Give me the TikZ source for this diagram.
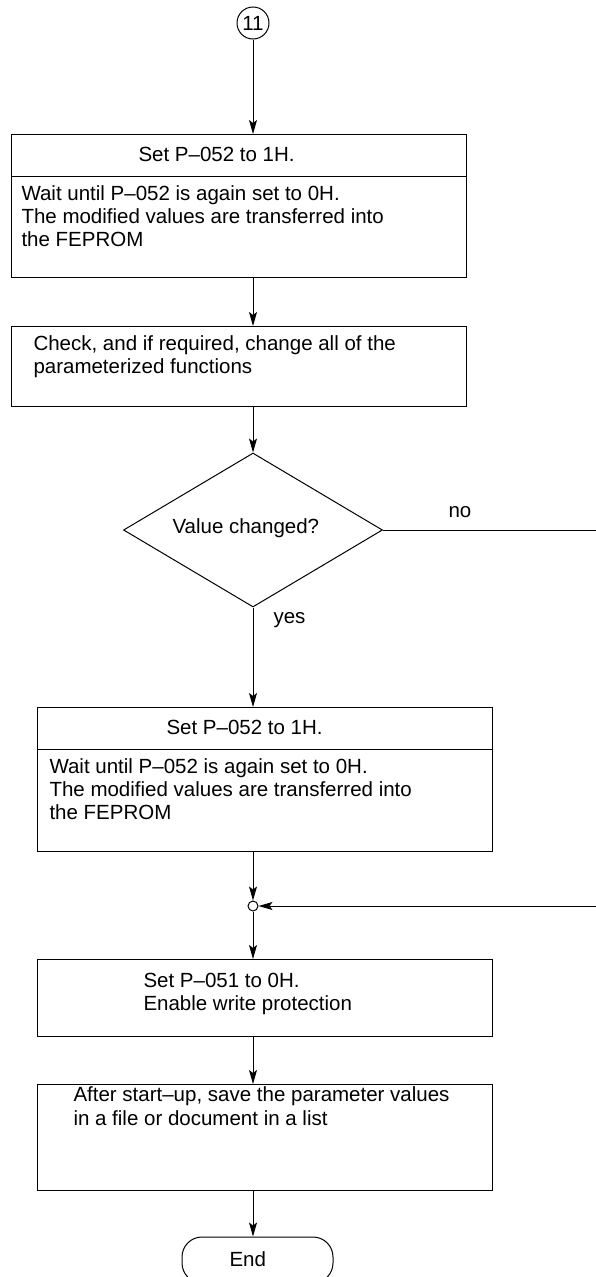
\documentclass[tikz,border=0pt]{standalone}
\usepackage{fontspec}
\setmainfont{Liberation Sans}
\usetikzlibrary{arrows.meta,shapes.geometric}
\begin{document}
\begin{tikzpicture}[x=1pt,y=-1pt,
  line width=1pt,
  font=\fontsize{20.5pt}{23.3pt}\selectfont,
  box/.style={draw, rectangle, inner sep=0pt, outer sep=0pt, anchor=north west, minimum width=455pt},
  txt/.style={anchor=base west, inner sep=0pt},
  arr/.style={-{Stealth[length=14pt,width=8pt,inset=3pt]}},
]
\useasboundingbox (0,0) rectangle (595,1277);

% start connector
\node[draw, circle, minimum size=32pt, inner sep=0pt] (c11) at (253,23) {11};

% box 1
\node[box, minimum height=143pt] (b1) at (11,134) {};
\draw ([yshift=-42pt]b1.north west) -- ([yshift=-42pt]b1.north east);
\node[txt] (t1a) at (138,161.5) {Set P–052 to 1H.};
\node[txt] (t1b) at (21,200.3) {Wait until P–052 is again set to 0H.};
\node[txt] (t1c) at (21,223.6) {The modified values are transferred into};
\node[txt] (t1d) at (21,246.9) {the FEPROM};

% box 2
\node[box, minimum height=80pt] (b2) at (11,326) {};
\node[txt] (t2a) at (33,350.5) {Check, and if required, change all of the};
\node[txt] (t2b) at (33,373.8) {parameterized functions};

% decision
\node[draw, diamond, minimum width=259pt, minimum height=154pt, inner sep=0pt] (d) at (253,530) {};
\node[txt] (td) at (172,533) {Value changed?};
\node[txt] (tno) at (448,517) {no};
\node[txt] (tyes) at (273,623) {yes};

% box 3
\node[box, minimum height=144pt] (b3) at (37,707) {};
\draw ([yshift=-42pt]b3.north west) -- ([yshift=-42pt]b3.north east);
\node[txt] (t3a) at (166,734.5) {Set P–052 to 1H.};
\node[txt] (t3b) at (49,773.3) {Wait until P–052 is again set to 0H.};
\node[txt] (t3c) at (49,796.6) {The modified values are transferred into};
\node[txt] (t3d) at (49,819.9) {the FEPROM};

% junction
\node[draw, circle, minimum size=10pt, inner sep=0pt] (j) at (253,906) {};

% box 4
\node[box, minimum height=77pt] (b4) at (37,959) {};
\node[txt] (t4a) at (143,987.3) {Set P–051 to 0H.};
\node[txt] (t4b) at (143,1010.6) {Enable write protection};

% box 5
\node[box, minimum height=106pt] (b5) at (37,1084) {};
\node[txt] (t5a) at (73,1101.7) {After start–up, save the parameter values};
\node[txt] (t5b) at (73,1125) {in a file or document in a list};

% end terminal
\node[draw, rectangle, rounded corners=20pt, minimum width=151pt, minimum height=46pt, inner sep=0pt] (e) at (257.5,1260) {};
\node[txt] (te) at (229,1266) {End};

% free ends off the right edge
\coordinate (noend) at (600,530);
\coordinate (ret) at (600,906);

% connectors
\draw[arr] (c11.south) -- (c11.south |- b1.north);
\draw[arr] (c11.south |- b1.south) -- (c11.south |- b2.north);
\draw[arr] (c11.south |- b2.south) -- (d.north);
\draw (d.east) -- (noend);
\draw[arr] (d.south) -- (d.south |- b3.north);
\draw[arr] (d.south |- b3.south) -- (j.north);
\draw[arr] (ret) -- (j.east);
\draw[arr] (j.south) -- (j.south |- b4.north);
\draw[arr] (j.south |- b4.south) -- (j.south |- b5.north);
\draw[arr] (j.south |- b5.south) -- (j.south |- e.north);
\end{tikzpicture}
\end{document}
